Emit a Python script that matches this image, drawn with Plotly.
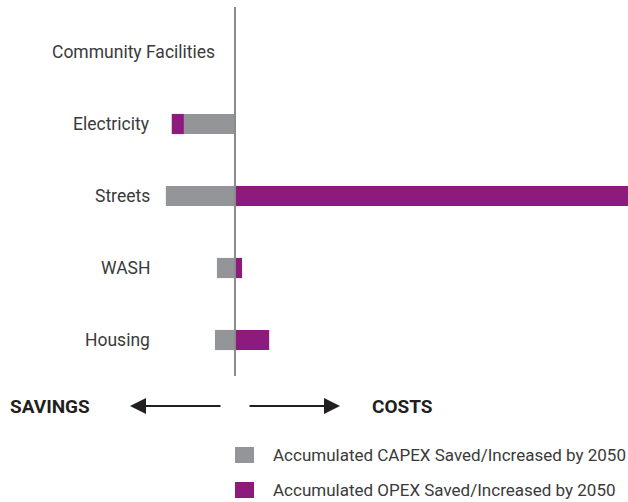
import plotly.graph_objects as go

# sectors, top to bottom as drawn
sectors = ["Community Facilities", "Electricity", "Streets", "WASH", "Housing"]
# accumulated savings (-) / extra costs (+) by 2050, chart units
capex = [0, -13.0, -17.6, -4.6, -5.1]
opex = [0, -3.1, 100.0, 1.8, 8.7]

capex_name = "Accumulated CAPEX Saved/Increased by 2050"
opex_name = "Accumulated OPEX Saved/Increased by 2050"

GREY = "#939598"
PURPLE = "#8d1b7e"
TXT = "#3a3a3a"
DARK = "#231f20"
FONT = "Roboto, Liberation Sans, sans-serif"

W, H = 628, 502
top, bottom = 7, 376  # plot area rows in pixels


def py(p):
    # pixel row -> paper y
    return (bottom - p) / (bottom - top)


def px(p):
    return p / W


fig = go.Figure()
fig.add_trace(go.Bar(y=sectors, x=capex, orientation="h", name=capex_name,
                     marker=dict(color=GREY, line_width=0), width=0.28,
                     showlegend=False))
fig.add_trace(go.Bar(y=sectors, x=opex, orientation="h", name=opex_name,
                     marker=dict(color=PURPLE, line_width=0), width=0.28,
                     showlegend=False))

# zero line on top of bars
fig.add_shape(type="line", xref="x", yref="paper", x0=0, x1=0, y0=0, y1=1,
              line=dict(color="#8a8a8a", width=2), layer="above")

# category labels (left of bars)
label_right = {"Community Facilities": 217}
for s in sectors:
    fig.add_annotation(x=px(label_right.get(s, 152)), xref="paper", y=s, yref="y",
                       text=s, showarrow=False, xanchor="right", yanchor="middle",
                       font=dict(family=FONT, size=17.5, color=TXT))

# savings / costs arrows
yr = py(406)
fig.add_annotation(x=px(8), y=yr, xref="paper", yref="paper", text="<b>SAVINGS</b>",
                   showarrow=False, xanchor="left", yanchor="middle",
                   font=dict(family=FONT, size=19, color=DARK))
fig.add_annotation(x=px(370), y=yr, xref="paper", yref="paper", text="<b>COSTS</b>",
                   showarrow=False, xanchor="left", yanchor="middle",
                   font=dict(family=FONT, size=19, color=DARK))
fig.add_annotation(x=px(130), y=yr, xref="paper", yref="paper", text="",
                   showarrow=True, ax=92, ay=0, arrowhead=2, arrowsize=1.6,
                   arrowwidth=2, arrowcolor=DARK, standoff=0)
fig.add_annotation(x=px(340), y=yr, xref="paper", yref="paper", text="",
                   showarrow=True, ax=-92, ay=0, arrowhead=2, arrowsize=1.6,
                   arrowwidth=2, arrowcolor=DARK, standoff=0)

# legend drawn by hand (bigger swatches than plotly's)
for name, col, row in [(capex_name, GREY, 455), (opex_name, PURPLE, 490)]:
    fig.add_shape(type="rect", xref="paper", yref="paper",
                  x0=px(235), x1=px(254), y0=py(row - 8), y1=py(row + 8),
                  fillcolor=col, line_width=0)
    fig.add_annotation(x=px(271), y=py(row), xref="paper", yref="paper", text=name,
                       showarrow=False, xanchor="left", yanchor="middle",
                       font=dict(family=FONT, size=17, color=TXT))

fig.update_layout(
    width=W, height=H,
    barmode="relative",
    plot_bgcolor="white", paper_bgcolor="white",
    margin=dict(l=0, r=0, t=top, b=H - bottom, pad=0),
    xaxis=dict(range=[-235 / 3.93, 100], showgrid=False, zeroline=False,
               showticklabels=False, ticks="", fixedrange=True),
    yaxis=dict(categoryorder="array", categoryarray=sectors[::-1],
               range=[-0.5, 4.625], showgrid=False, zeroline=False,
               showticklabels=False, ticks="", fixedrange=True),
    showlegend=False,
)

# drop the default page margin so the 628x502 figure fills the window
fig.write_html("out.html", config={"displayModeBar": False},
               post_script="document.body.style.margin='0';"
                           "document.body.style.overflow='hidden';")
